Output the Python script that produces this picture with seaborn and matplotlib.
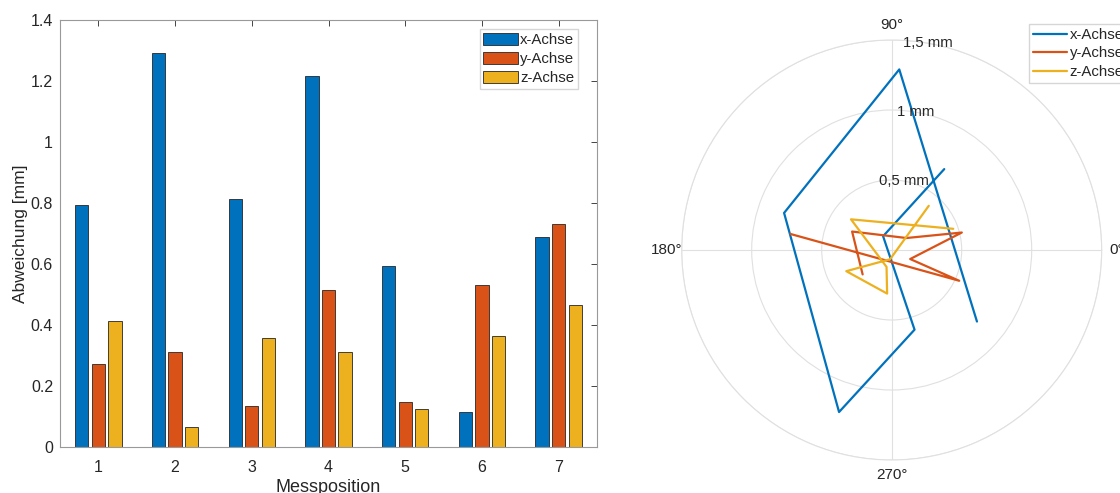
import numpy as np
import pandas as pd
import matplotlib
matplotlib.use("Agg")
import matplotlib.pyplot as plt
import seaborn as sns

positions = ["1", "2", "3", "4", "5", "6", "7"]
axes_names = ["x-Achse", "y-Achse", "z-Achse"]

x_dev = [0.795, 1.291, 0.813, 1.217, 0.592, 0.116, 0.689]
y_dev = [0.271, 0.312, 0.136, 0.516, 0.147, 0.530, 0.732]
z_dev = [0.412, 0.067, 0.358, 0.313, 0.126, 0.364, 0.465]

# Richtung der Abweichung in Grad
x_angle = [320, 87.6, 161, 252, 286, 122, 57]
y_angle = [220, 155, 39, 14, 334, 335.5, 171]
z_angle = [50, 260, 205, 264, 253, 143, 19]

r_ticks = [0.5, 1.0, 1.5]
r_labels = ["0,5 mm", "1 mm", "1,5 mm"]

colors = ["#0072BD", "#D95319", "#EDB120"]
txt = "#262626"

sns.set_style("white")
plt.rcParams["font.family"] = ["Liberation Sans", "DejaVu Sans"]
plt.rcParams["font.size"] = 11

df = pd.DataFrame({
    "Messposition": positions * 3,
    "Abweichung": x_dev + y_dev + z_dev,
    "Achse": np.repeat(axes_names, len(positions)),
    "Winkel": np.deg2rad(x_angle + y_angle + z_angle),
})

fig = plt.figure(figsize=(11.2, 4.93), dpi=100)

# --- Balkendiagramm ---
ax = fig.add_axes([60 / 1120, 46 / 493, 537 / 1120, 427 / 493])
sns.barplot(data=df, x="Messposition", y="Abweichung", hue="Achse",
            palette=colors, width=0.65, gap=0.2, saturation=1,
            edgecolor=txt, linewidth=0.6, ax=ax)
ax.set_ylim(0, 1.4)
ax.set_yticks(np.arange(0, 1.41, 0.2))
ax.set_yticklabels(["0", "0.2", "0.4", "0.6", "0.8", "1", "1.2", "1.4"])
ax.set_xlabel("Messposition", fontsize=13, color=txt, labelpad=3)
ax.set_ylabel("Abweichung [mm]", fontsize=12.5, color=txt, labelpad=2)
ax.tick_params(direction="in", top=True, right=True, length=4,
               colors=txt, labelsize=11.5, width=0.6)
ax.tick_params(axis="x", pad=9)
ax.tick_params(axis="y", pad=5)
for s in ax.spines.values():
    s.set_color("#999999")
    s.set_linewidth(0.8)
ax.legend(loc="upper right", bbox_to_anchor=(578 / 1120, 1 - 29 / 493),
          bbox_transform=fig.transFigure, borderaxespad=0, fancybox=False,
          edgecolor="#cccccc", handlelength=2.3, handleheight=0.9,
          handletextpad=0.15, borderpad=0.25, labelspacing=0.3, fontsize=10.8)

# --- Polardiagramm ---
axp = fig.add_axes([681.7 / 1120, 33 / 493, 420 / 1120, 420 / 493], projection="polar")
sns.lineplot(data=df, x="Winkel", y="Abweichung", hue="Achse", palette=colors,
             sort=False, estimator=None, linewidth=1.6, ax=axp)
axp.set_rlim(0, 1.5)
axp.set_rticks(r_ticks)
axp.set_yticklabels([])
for r, lab in zip(r_ticks, r_labels):
    axp.text(np.deg2rad(80), r, lab, ha="center", va="center",
             fontsize=10.7, color=txt)
axp.set_xticks(np.deg2rad([0, 90, 180, 270]))
axp.set_xticklabels(["0°", "90°", "180°", "270°"], fontsize=11, color=txt)
axp.tick_params(axis="x", pad=0)
axp.grid(color="#e0e0e0", linewidth=0.8)
axp.spines["polar"].set_color("#e0e0e0")
axp.spines["polar"].set_linewidth(0.8)
axp.set_xlabel("")
axp.set_ylabel("")
axp.legend(loc="upper left", bbox_to_anchor=(1029 / 1120, 1 - 24 / 493),
           bbox_transform=fig.transFigure, borderaxespad=0, fancybox=False,
           edgecolor="#cccccc", handlelength=2.3, handletextpad=0.15,
           borderpad=0.25, labelspacing=0.3, fontsize=10.8)

fig.savefig("out.png", dpi=100)
